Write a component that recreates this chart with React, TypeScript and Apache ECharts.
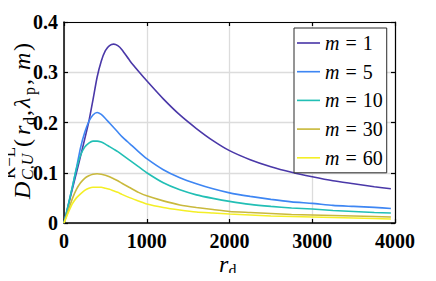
import React, { useEffect, useRef } from "react";
import * as echarts from "echarts";

// r_d sample positions
const rd = [0, 50, 100, 150, 200, 250, 300, 350, 400, 450, 500, 550, 600, 650, 700, 800, 900, 1000, 1200, 1400, 1600, 1800, 2000, 2250, 2500, 2750, 3000, 3250, 3500, 3750, 3950];

const mValues = [1, 5, 10, 30, 60];

const dM1 = [0, 0.033, 0.067, 0.1, 0.133, 0.167, 0.202, 0.245, 0.29, 0.322, 0.343, 0.353, 0.356, 0.353, 0.345, 0.322, 0.302, 0.283, 0.247, 0.215, 0.188, 0.164, 0.144, 0.126, 0.112, 0.101, 0.092, 0.084, 0.078, 0.072, 0.068];
const dM5 = [0, 0.035, 0.071, 0.109, 0.15, 0.18, 0.202, 0.215, 0.22, 0.216, 0.208, 0.199, 0.19, 0.181, 0.172, 0.157, 0.142, 0.128, 0.106, 0.09, 0.078, 0.068, 0.06, 0.053, 0.047, 0.042, 0.039, 0.035, 0.033, 0.031, 0.029];
const dM10 = [0, 0.035, 0.071, 0.108, 0.135, 0.151, 0.159, 0.163, 0.163, 0.161, 0.157, 0.152, 0.147, 0.142, 0.136, 0.124, 0.112, 0.1, 0.08, 0.066, 0.056, 0.049, 0.043, 0.037, 0.033, 0.03, 0.028, 0.025, 0.023, 0.021, 0.02];
const dM30 = [0, 0.024, 0.048, 0.067, 0.08, 0.089, 0.094, 0.097, 0.098, 0.097, 0.095, 0.092, 0.088, 0.084, 0.079, 0.07, 0.061, 0.054, 0.044, 0.036, 0.031, 0.027, 0.023, 0.021, 0.019, 0.017, 0.016, 0.015, 0.014, 0.013, 0.012];
const dM60 = [0, 0.02, 0.038, 0.05, 0.058, 0.065, 0.069, 0.071, 0.071, 0.071, 0.069, 0.067, 0.064, 0.061, 0.057, 0.05, 0.044, 0.038, 0.031, 0.026, 0.022, 0.02, 0.018, 0.016, 0.014, 0.013, 0.012, 0.011, 0.01, 0.009, 0.008];

const seriesValues = [dM1, dM5, dM10, dM30, dM60];
const seriesColors = ["#4a38a8", "#3e86f3", "#22bfb5", "#c9b93c", "#f4ef26"];

const xTicks = [0, 1000, 2000, 3000, 4000];
const yTicks = [0, 0.1, 0.2, 0.3, 0.4];

const SERIF = "Liberation Serif";
const LINE_ICON = "path://M0,0 L24,0 L24,1.7 L0,1.7 Z";

function mid(baseline: number, fs: number) {
  return baseline - 0.34 * fs;
}

function txt(text: string, x: number, baseline: number, fs: number, italic: boolean) {
  return {
    type: "text",
    style: {
      text,
      x,
      y: mid(baseline, fs),
      font: (italic ? "italic " : "") + fs + "px 'Liberation Serif'",
      fill: "#000",
      align: "left",
      verticalAlign: "middle",
    },
  };
}

export default function App() {
  const ref = useRef<HTMLDivElement>(null);

  useEffect(() => {
    if (!ref.current) return;
    const chart = echarts.init(ref.current, null, { renderer: "svg" });

    const series = mValues.map((m, i) => ({
      name: "m = " + m,
      type: "line",
      data: rd.map((x, j) => [x, seriesValues[i][j]]),
      showSymbol: false,
      symbol: "none",
      smooth: 0.2,
      lineStyle: { width: 1.6, color: seriesColors[i] },
      itemStyle: { color: seriesColors[i] },
      z: 3,
    }));

    const yLabel = {
      type: "group",
      x: 30,
      y: 199,
      rotation: Math.PI / 2,
      children: [
        txt("D", 0, 0, 24, true),
        txt("K\u2212L", 20, -15, 17, false),
        txt("C,U", 19, 3, 16, true),
        txt("(", 52, 0, 24, false),
        txt("r", 64, 0, 24, true),
        txt("d", 74, 5, 16, false),
        txt(",", 83, 0, 24, false),
        txt("\u03bb", 91, 0, 24, true),
        txt("p", 104, 5, 16, false),
        txt(",", 114, 0, 24, false),
        txt("m", 129, 0, 24, true),
        txt(")", 148, 0, 24, false),
      ],
    };

    const xLabel = {
      type: "group",
      x: 0,
      y: 0,
      children: [txt("r", 219, 272, 24, true), txt("d", 228.5, 276, 16, false)],
    };

    chart.setOption({
      animation: false,
      backgroundColor: "#fff",
      grid: { left: 64, top: 22, right: 41, bottom: 58, containLabel: false },
      legend: {
        show: true,
        orient: "vertical",
        left: 294,
        top: 28,
        padding: [5, 4, 5, 3],
        itemWidth: 23,
        itemHeight: 14,
        itemGap: 8.7,
        backgroundColor: "#fff",
        borderColor: "#2a2a2a",
        borderWidth: 1,
        borderRadius: 0,
        icon: LINE_ICON,
        data: mValues.map((m) => ({ name: "m = " + m, icon: LINE_ICON })),
        formatter: (name: string) => {
          const v = name.split("= ")[1];
          return "{i|m}{e|=}{n|" + v + "}";
        },
        textStyle: {
          fontFamily: SERIF,
          fontSize: 20,
          color: "#000",
          rich: {
            i: { fontFamily: SERIF, fontSize: 20, fontStyle: "italic", color: "#000" },
            e: { fontFamily: SERIF, fontSize: 20, color: "#000", padding: [0, 6, 0, 6] },
            n: { fontFamily: SERIF, fontSize: 20, color: "#000" },
          },
        },
      },
      xAxis: [
        {
          type: "value",
          min: 0,
          max: 4000,
          interval: 1000,
          position: "bottom",
          axisLine: { show: true, onZero: false, lineStyle: { color: "#000", width: 1.5 } },
          axisTick: { show: true, inside: true, length: 4, lineStyle: { color: "#000", width: 1.2 } },
          axisLabel: {
            show: true,
            margin: 8,
            fontFamily: SERIF,
            fontWeight: "bold",
            fontSize: 20,
            color: "#000",
            formatter: (v: number) => (xTicks.includes(v) ? String(v) : ""),
          },
          splitLine: { show: true, lineStyle: { color: "#dcdcdc", width: 1.3 } },
        },
        {
          type: "value",
          min: 0,
          max: 4000,
          interval: 1000,
          position: "top",
          axisLine: { show: true, onZero: false, lineStyle: { color: "#000", width: 1.2 } },
          axisTick: { show: true, inside: true, length: 4, lineStyle: { color: "#000", width: 1.2 } },
          axisLabel: { show: false },
          splitLine: { show: false },
        },
      ],
      yAxis: [
        {
          type: "value",
          min: 0,
          max: 0.4,
          interval: 0.1,
          position: "left",
          axisLine: { show: true, onZero: false, lineStyle: { color: "#000", width: 1.5 } },
          axisTick: { show: true, inside: true, length: 4, lineStyle: { color: "#000", width: 1.2 } },
          axisLabel: {
            show: true,
            margin: 6,
            fontFamily: SERIF,
            fontWeight: "bold",
            fontSize: 20,
            color: "#000",
            formatter: (v: number) => {
              const t = yTicks.find((y) => Math.abs(y - v) < 1e-9);
              if (t === undefined) return "";
              return t === 0 ? "0" : t.toFixed(1);
            },
          },
          splitLine: { show: true, lineStyle: { color: "#dcdcdc", width: 1.3 } },
        },
        {
          type: "value",
          min: 0,
          max: 0.4,
          interval: 0.1,
          position: "right",
          axisLine: { show: true, onZero: false, lineStyle: { color: "#000", width: 1.2 } },
          axisTick: { show: true, inside: true, length: 4, lineStyle: { color: "#000", width: 1.2 } },
          axisLabel: { show: false },
          splitLine: { show: false },
        },
      ],
      graphic: [yLabel, xLabel],
      series,
    });

    return () => {
      chart.dispose();
    };
  }, []);

  return <div ref={ref} style={{ width: 436, height: 281, margin: -8 }} />;
}
